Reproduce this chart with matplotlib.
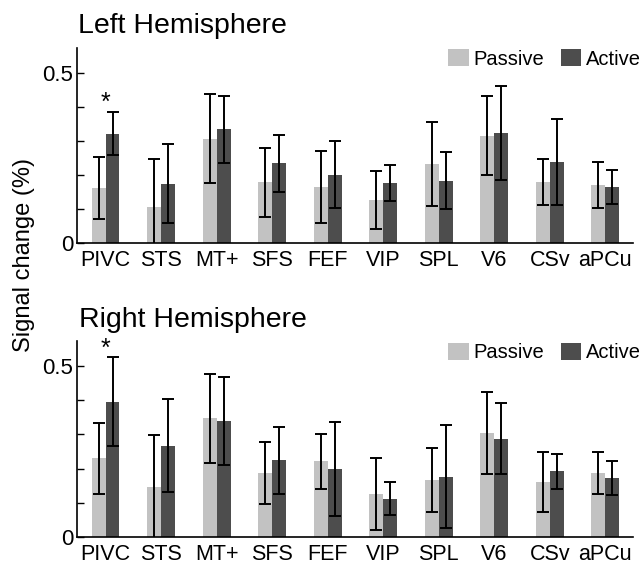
import numpy as np
import matplotlib
matplotlib.use("Agg")
import matplotlib.pyplot as plt
from matplotlib.patches import Patch

plt.rcParams['font.family'] = ['Liberation Sans', 'DejaVu Sans']

regions = ['PIVC', 'STS', 'MT+', 'SFS', 'FEF', 'VIP', 'SPL', 'V6', 'CSv', 'aPCu']

# left hemisphere, mean and error
left_passive = [0.163, 0.106, 0.306, 0.179, 0.164, 0.127, 0.232, 0.315, 0.180, 0.171]
left_passive_err = [0.091, 0.141, 0.130, 0.101, 0.106, 0.085, 0.124, 0.115, 0.067, 0.068]
left_active = [0.321, 0.175, 0.334, 0.234, 0.201, 0.176, 0.183, 0.323, 0.237, 0.164]
left_active_err = [0.063, 0.115, 0.098, 0.083, 0.098, 0.053, 0.083, 0.137, 0.126, 0.050]

# right hemisphere
right_passive = [0.230, 0.147, 0.347, 0.188, 0.221, 0.125, 0.167, 0.305, 0.162, 0.188]
right_passive_err = [0.104, 0.151, 0.130, 0.091, 0.079, 0.105, 0.092, 0.120, 0.088, 0.062]
right_active = [0.395, 0.267, 0.339, 0.225, 0.198, 0.113, 0.176, 0.288, 0.192, 0.172]
right_active_err = [0.130, 0.135, 0.127, 0.098, 0.137, 0.049, 0.150, 0.103, 0.050, 0.049]

stars_left = {0: 0.41}
stars_right = {0: 0.55}

c_pass = '#c2c2c2'
c_act = '#4d4d4d'

fig = plt.figure(figsize=(6.44, 5.67), dpi=100)
ax1 = fig.add_axes([0.120, 0.571, 0.863, 0.345])
ax2 = fig.add_axes([0.120, 0.0524, 0.863, 0.346])

def panel(ax, passive, perr, active, aerr, stars, ytop):
    x = np.arange(len(regions))
    w = 0.25
    ekw = dict(ecolor='black', elinewidth=1.4, capsize=4, capthick=1.4)
    ax.bar(x - w/2, passive, w, color=c_pass, yerr=perr, error_kw=ekw, zorder=2)
    ax.bar(x + w/2, active, w, color=c_act, yerr=aerr, error_kw=ekw, zorder=2)
    for k, v in stars.items():
        ax.text(k, v, '*', ha='center', va='center', fontsize=18)
    ax.set_xlim(-0.51, 9.5)
    ax.set_ylim(0, ytop)
    ax.set_xticks(x)
    ax.set_xticklabels(regions, fontsize=15.5)
    ax.set_yticks([0, 0.5])
    ax.set_yticklabels(['0', '0.5'], fontsize=16)
    ax.set_yticks([0.1, 0.2, 0.3, 0.4], minor=True)
    ax.tick_params(axis='x', length=0, pad=5)
    ax.tick_params(axis='y', which='both', direction='in', length=5, width=1, pad=3)
    for s in ['top', 'right']:
        ax.spines[s].set_visible(False)
    for s in ['left', 'bottom']:
        ax.spines[s].set_linewidth(1.2)
    handles = [Patch(facecolor=c_pass, label='Passive'), Patch(facecolor=c_act, label='Active')]
    ax.legend(handles=handles, ncol=2, frameon=False, fontsize=14.5, loc='center right',
              bbox_to_anchor=(1.014, 0.942), borderaxespad=0, borderpad=0,
              handlelength=1.0, handleheight=0.9, handletextpad=0.23, columnspacing=0.85)

panel(ax1, left_passive, left_passive_err, left_active, left_active_err, stars_left, 0.573)
panel(ax2, right_passive, right_passive_err, right_active, right_active_err, stars_right, 0.572)

fig.text(0.121, 0.942, 'Left Hemisphere', fontsize=20.5, va='baseline', ha='left')
fig.text(0.122, 0.424, 'Right Hemisphere', fontsize=20.5, va='baseline', ha='left')
fig.text(0.038, 0.55, 'Signal change (%)', fontsize=17, rotation=90, va='center', ha='center')

fig.savefig('out.png', dpi=100)
